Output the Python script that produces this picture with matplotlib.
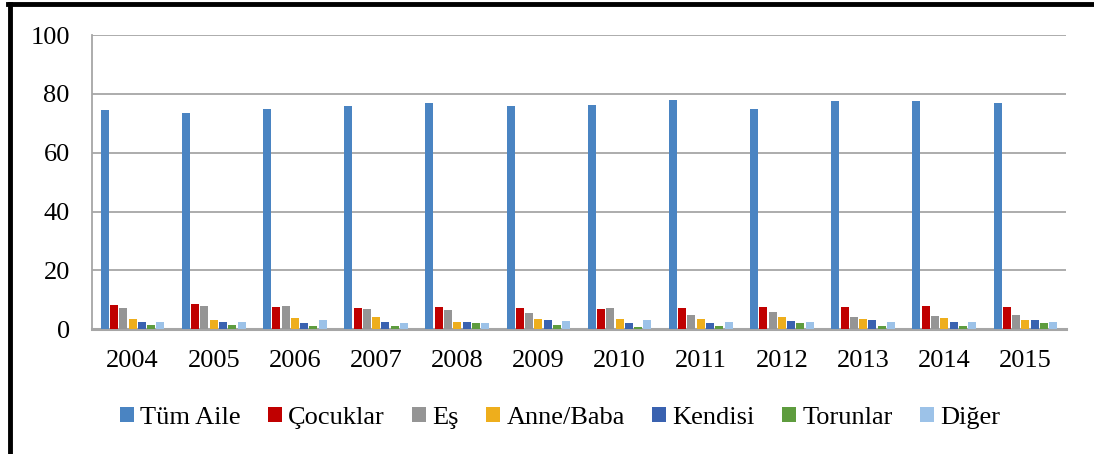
import numpy as np
import matplotlib
matplotlib.use("Agg")
import matplotlib.pyplot as plt
from matplotlib.lines import Line2D

plt.rcParams["font.family"] = ["Liberation Serif", "DejaVu Serif"]

# ── Data ──────────────────────────────────────────────────────────────────────
years = ["2004", "2005", "2006", "2007", "2008", "2009",
         "2010", "2011", "2012", "2013", "2014", "2015"]

tum_aile  = [74.5, 73.5, 74.9, 75.9, 76.9, 75.9, 76.2, 77.9, 74.9, 77.6, 77.6, 76.9]
cocuklar  = [8.2, 8.6, 7.5, 7.2, 7.5, 7.2, 6.8, 7.2, 7.5, 7.5, 7.9, 7.5]
es        = [7.2, 7.9, 7.9, 6.9, 6.6, 5.6, 7.2, 4.9, 6.0, 4.2, 4.5, 4.9]
anne_baba = [3.5, 3.1, 3.8, 4.2, 2.5, 3.5, 3.5, 3.5, 4.2, 3.5, 3.8, 3.1]
kendisi   = [2.5, 2.5, 2.0, 2.5, 2.5, 3.1, 2.2, 2.2, 2.8, 3.1, 2.5, 3.1]
torunlar  = [1.5, 1.5, 1.2, 1.2, 2.0, 1.5, 0.8, 1.2, 2.0, 1.2, 1.2, 2.0]
diger     = [2.5, 2.5, 3.1, 2.2, 2.2, 2.8, 3.1, 2.5, 2.5, 2.5, 2.5, 2.5]

series_labels = ["Tüm Aile", "Çocuklar", "Eş", "Anne/Baba", "Kendisi", "Torunlar", "Diğer"]
series_colors = ["#4A84C2", "#C00000", "#959595", "#EEAE1C", "#3A62B0", "#5E9C3E", "#9CC2E8"]

# ── Figure ────────────────────────────────────────────────────────────────────
fig = plt.figure(figsize=(10.94, 4.54), dpi=100)
ax = fig.add_axes([0.0841, 0.2747, 0.8903, 0.6482])

x = np.arange(len(years))
series = [tum_aile, cocuklar, es, anne_baba, kendisi, torunlar, diger]
n = len(series)
group_w = 0.80
slot = group_w / n
for i, (vals, lab, col) in enumerate(zip(series, series_labels, series_colors)):
    offs = -group_w / 2 + slot * (i + 0.5)
    ax.bar(x + offs, vals, width=slot * 0.86, color=col, label=lab, zorder=3)

ax.set_xlim(-0.5, len(years) - 0.5)
ax.set_ylim(0, 100)
ax.set_yticks([0, 20, 40, 60, 80, 100])
ax.set_xticks(x)
ax.set_xticklabels(years)
ax.tick_params(axis="both", length=0, labelsize=19)
ax.tick_params(axis="y", pad=16)
ax.tick_params(axis="x", pad=15)

ax.grid(axis="y", color="#A6A6A6", lw=1.3, zorder=0)
for side in ["top", "right"]:
    ax.spines[side].set_visible(False)
ax.spines["left"].set_color("#A6A6A6")
ax.spines["left"].set_linewidth(1.3)
ax.spines["bottom"].set_color("#A6A6A6")
ax.spines["bottom"].set_linewidth(2.2)

fig.legend(loc="center", bbox_to_anchor=(0.512, 0.08), ncol=7, frameon=False,
           prop=dict(family="Liberation Serif", size=19),
           handlelength=0.53, handleheight=0.53,
           handletextpad=0.23, columnspacing=1.04)

# black frame (left and top edges of the page box)
fig.add_artist(Line2D([10 / 1094, 10 / 1094], [0, 450 / 454], color="black",
                      lw=3.5, transform=fig.transFigure))
fig.add_artist(Line2D([8 / 1094, 1], [450 / 454, 450 / 454], color="black",
                      lw=3.5, transform=fig.transFigure))

fig.savefig("out.png", dpi=100)
